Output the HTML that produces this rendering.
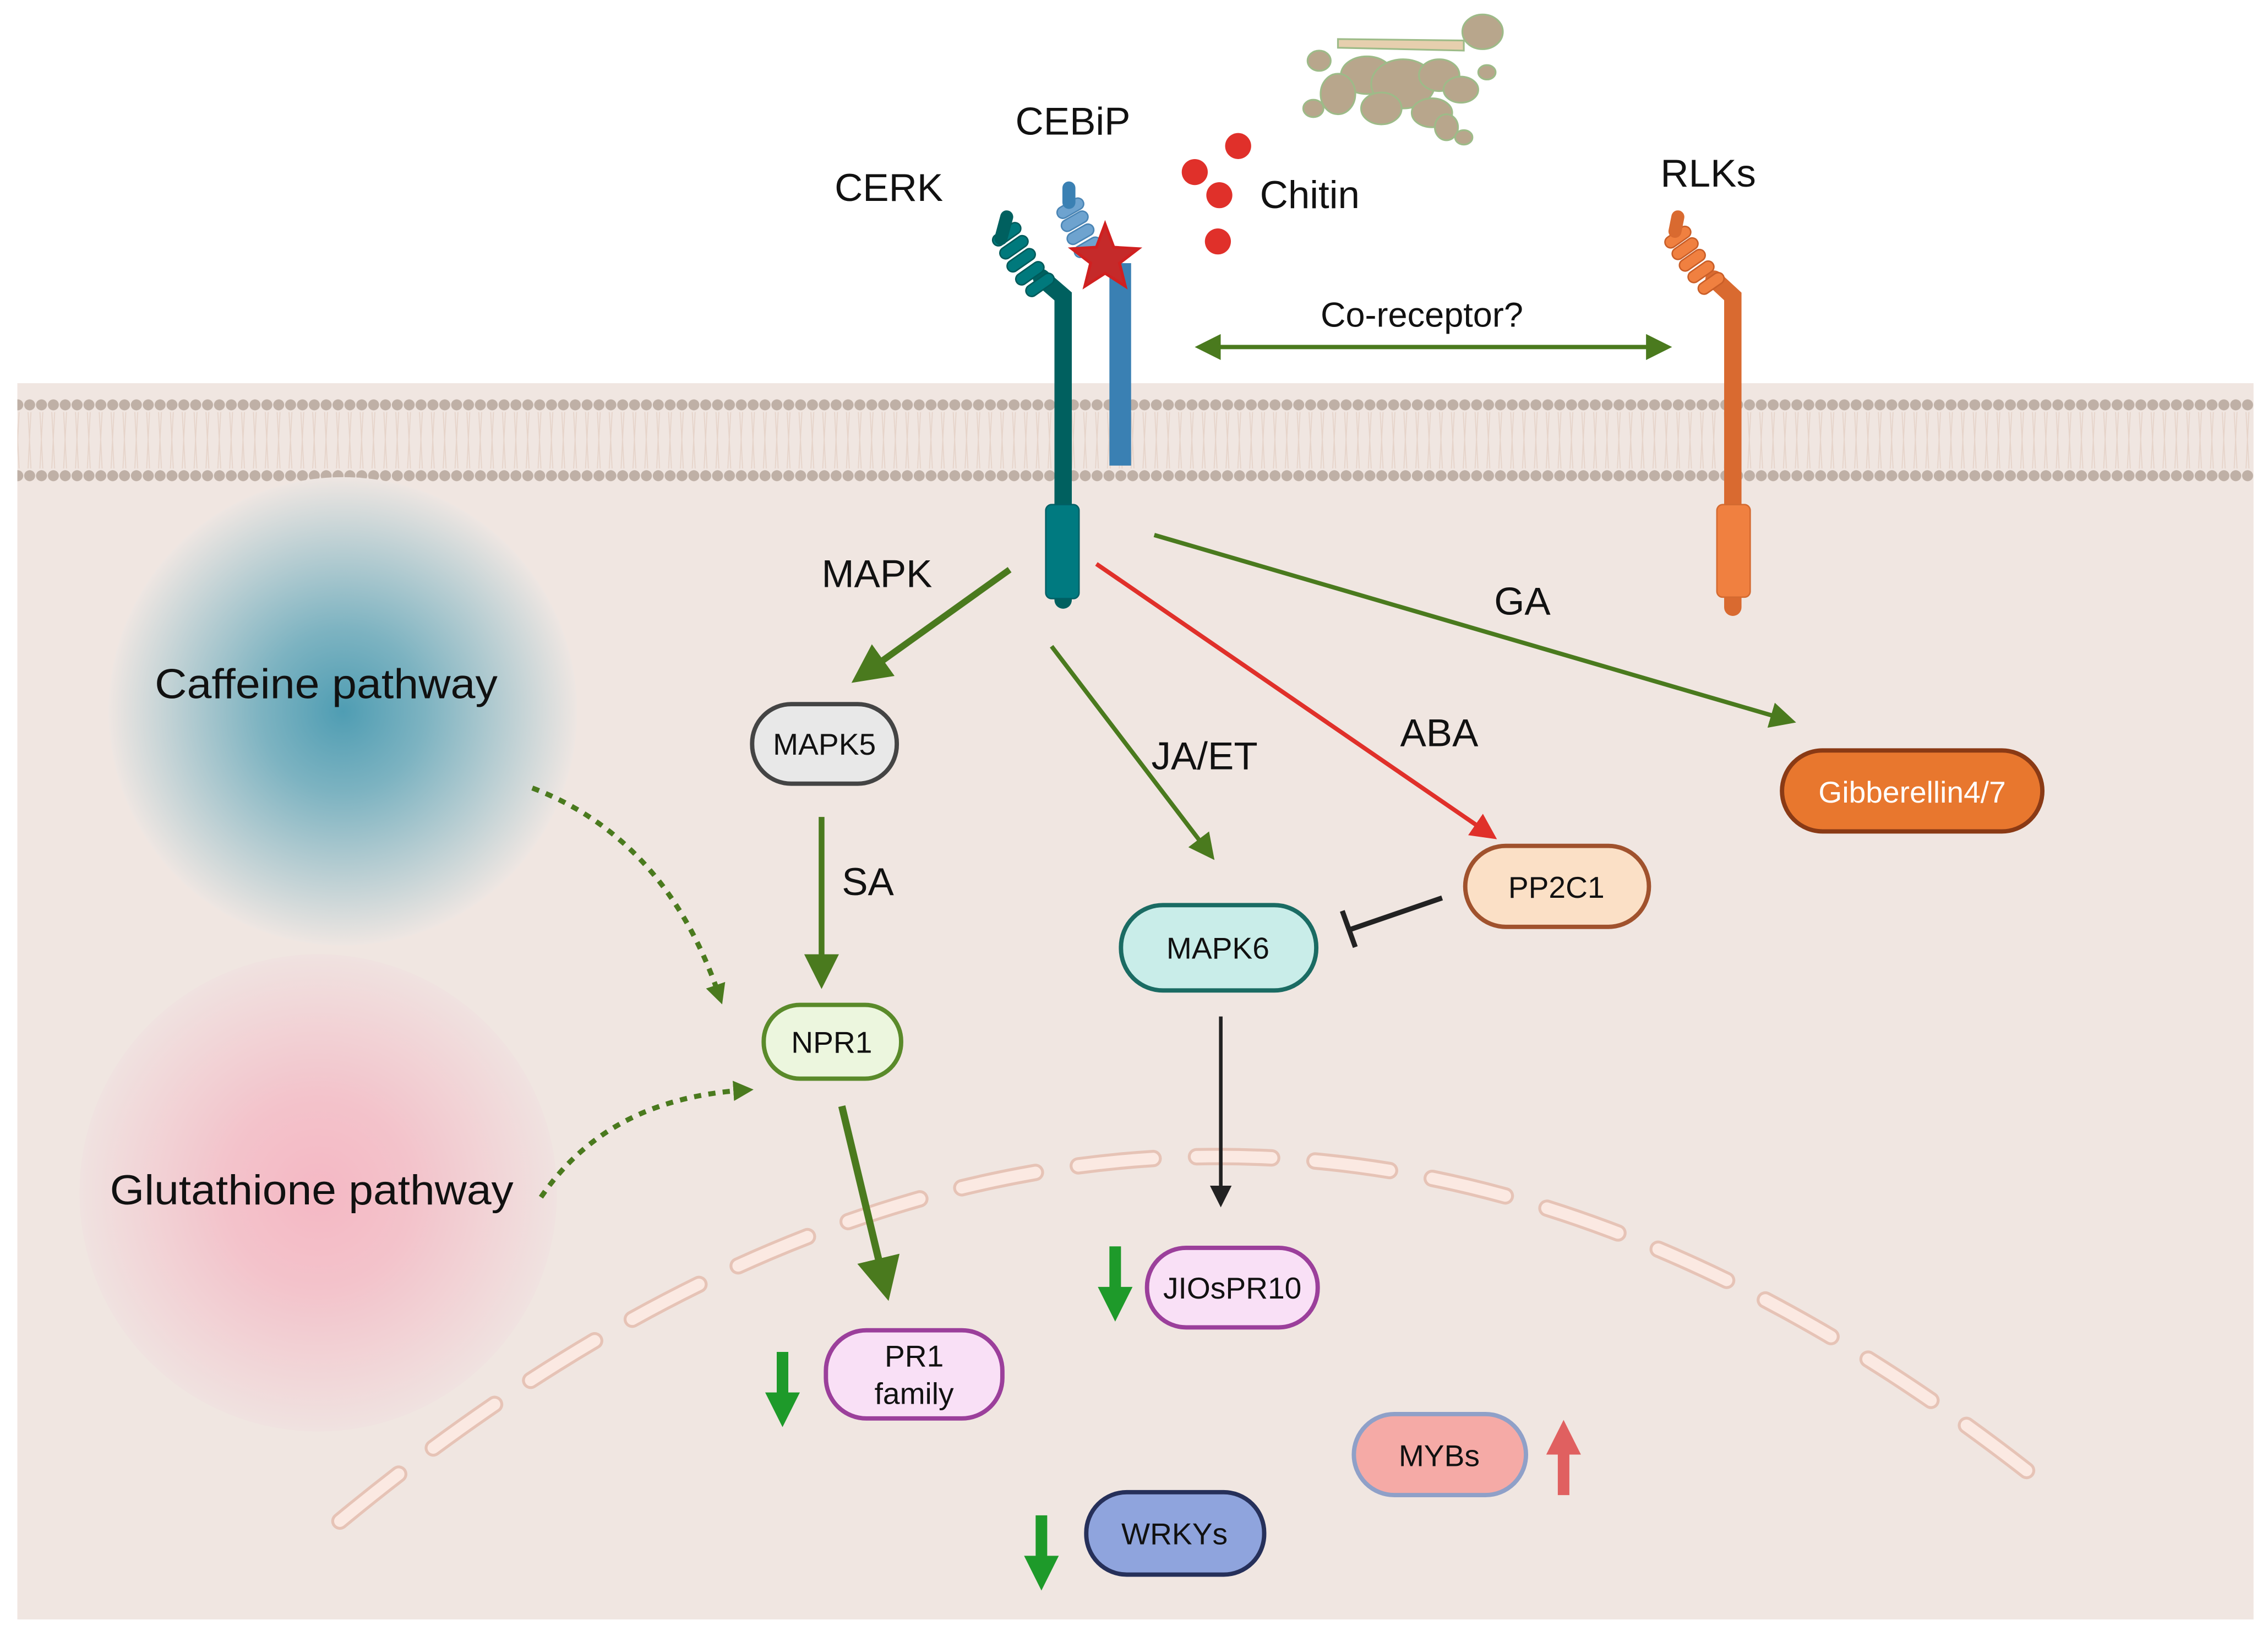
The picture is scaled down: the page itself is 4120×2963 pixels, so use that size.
<!DOCTYPE html>
<html><head><meta charset="utf-8"><style>html,body{margin:0;padding:0;background:#fff}svg{display:block}text{font-family:"Liberation Sans",sans-serif}</style></head><body>
<svg width="4120" height="2963" viewBox="0 0 1568 1128" preserveAspectRatio="none" xmlns="http://www.w3.org/2000/svg">
<defs>
<radialGradient id="gb"><stop offset="0" stop-color="#4f9db3"/><stop offset="0.35" stop-color="#7db3c1"/><stop offset="1" stop-color="#eee6e2"/></radialGradient>
<radialGradient id="gp"><stop offset="0" stop-color="#f5b8c4"/><stop offset="0.4" stop-color="#f3c3cb"/><stop offset="1" stop-color="#f0e2e0"/></radialGradient>
<pattern id="dots1" x="0" y="275" width="8.2" height="10" patternUnits="userSpaceOnUse"><circle cx="4.1" cy="5" r="3.8" fill="#bfb0a6"/></pattern>
<pattern id="dots2" x="0" y="324" width="8.2" height="10" patternUnits="userSpaceOnUse"><circle cx="4.1" cy="5" r="3.8" fill="#bfb0a6"/></pattern>
<pattern id="lip" x="0" y="285" width="8.2" height="39" patternUnits="userSpaceOnUse"><path d="M3 0 L4 19 L3 39 M5 0 L4 19 L5 39" stroke="#e6d4ca" stroke-width="0.7" fill="none"/></pattern>
<marker id="ag" markerWidth="6" markerHeight="6" refX="4" refY="3" orient="auto-start-reverse" markerUnits="strokeWidth"><path d="M0,0 L6,3 L0,6 Z" fill="#4a7a1e"/></marker>
<marker id="ar" markerWidth="6" markerHeight="6" refX="4" refY="3" orient="auto" markerUnits="strokeWidth"><path d="M0,0 L6,3 L0,6 Z" fill="#e0302a"/></marker>
<marker id="ak" markerWidth="6" markerHeight="6" refX="4" refY="3" orient="auto" markerUnits="strokeWidth"><path d="M0,0 L6,3 L0,6 Z" fill="#222"/></marker>
<marker id="ad" markerWidth="4" markerHeight="4" refX="2" refY="2" orient="auto" markerUnits="strokeWidth"><path d="M0,0 L4,2 L0,4 Z" fill="#4a7a1e"/></marker>
</defs>
<rect width="1568" height="1128" fill="#fff"/>
<rect x="12" y="265" width="1546" height="855" fill="#f0e6e1"/>
<rect x="12" y="285" width="1546" height="39" fill="url(#lip)"/>
<rect x="12" y="275" width="1546" height="10" fill="url(#dots1)"/>
<rect x="12" y="324" width="1546" height="10" fill="url(#dots2)"/>
<circle cx="237" cy="492" r="162" fill="url(#gb)"/>
<circle cx="220" cy="825" r="165" fill="url(#gp)"/>
<path d="M235,1052 Q830,560 1415,1028" fill="none" stroke="#e6c3b6" stroke-width="12" stroke-dasharray="52 30" stroke-linecap="round"/>
<path d="M235,1052 Q830,560 1415,1028" fill="none" stroke="#fbe9e2" stroke-width="8" stroke-dasharray="52 30" stroke-linecap="round"/>
<!-- fungus -->
<g fill="#b8a68c" stroke="#9dbb88" stroke-width="1.2">
<ellipse cx="1025" cy="22" rx="14" ry="12"/>
<path d="M925,27 L1012,28 L1012,35 L925,33 Z" fill="#e6cfae"/>
<ellipse cx="945" cy="52" rx="18" ry="13"/><ellipse cx="970" cy="58" rx="22" ry="17"/><ellipse cx="995" cy="52" rx="14" ry="11"/><ellipse cx="912" cy="42" rx="8" ry="7"/><ellipse cx="925" cy="65" rx="12" ry="14"/><ellipse cx="908" cy="75" rx="7" ry="6"/><ellipse cx="955" cy="75" rx="14" ry="11"/><ellipse cx="990" cy="78" rx="14" ry="10"/><ellipse cx="1010" cy="62" rx="12" ry="9"/><ellipse cx="1028" cy="50" rx="6" ry="5"/><ellipse cx="1000" cy="88" rx="8" ry="9"/><ellipse cx="1012" cy="95" rx="6" ry="5"/>
</g>
<!-- chitin -->
<g fill="#e0302a"><circle cx="856" cy="101" r="9"/><circle cx="826" cy="119" r="9"/><circle cx="843" cy="135" r="9"/><circle cx="842" cy="167" r="9"/></g>
<!-- CERK -->
<path d="M735,415 L735,205 L720,192" stroke="#00605f" stroke-width="12" fill="none" stroke-linecap="round"/>
<g fill="#00797c" stroke="#005a5a" stroke-width="1">
<rect x="685" y="158" width="22" height="8" rx="4" transform="rotate(-35 696 162)"/><rect x="690" y="167" width="22" height="8" rx="4" transform="rotate(-35 701 171)"/><rect x="695" y="176" width="22" height="8" rx="4" transform="rotate(-35 706 180)"/><rect x="701" y="185" width="22" height="8" rx="4" transform="rotate(-35 712 189)"/><rect x="708" y="193" width="22" height="8" rx="4" transform="rotate(-35 719 197)"/>
</g>
<path d="M692,165 L696,150" stroke="#00605f" stroke-width="9" stroke-linecap="round"/>
<rect x="723" y="349" width="23" height="65" rx="4" fill="#007a80" stroke="#006066"/>
<!-- CEBiP -->
<rect x="767" y="182" width="15" height="140" fill="#3a80b3"/>
<g fill="#6ea3cf" stroke="#4a85b5" stroke-width="1">
<rect x="730" y="140" width="20" height="8" rx="4" transform="rotate(-30 740 144)"/><rect x="733" y="149" width="20" height="8" rx="4" transform="rotate(-30 743 153)"/><rect x="737" y="158" width="20" height="8" rx="4" transform="rotate(-30 747 162)"/><rect x="742" y="167" width="20" height="8" rx="4" transform="rotate(-30 752 171)"/>
</g>
<path d="M739,140 L739,130" stroke="#3a80b3" stroke-width="9" stroke-linecap="round"/>
<polygon points="764,155 770,171 787,172 774,182 778,198 764,189 750,198 754,182 741,172 758,171" fill="#c52a2a" stroke="#d02020" stroke-width="2"/>
<!-- RLKs -->
<path d="M1198,420 L1198,205 L1185,193" stroke="#d96a30" stroke-width="12" fill="none" stroke-linecap="round"/>
<g fill="#f08040" stroke="#c95e28" stroke-width="1">
<rect x="1150" y="160" width="20" height="8" rx="4" transform="rotate(-35 1160 164)"/><rect x="1155" y="168" width="20" height="8" rx="4" transform="rotate(-35 1165 172)"/><rect x="1160" y="176" width="20" height="8" rx="4" transform="rotate(-35 1170 180)"/><rect x="1166" y="184" width="20" height="8" rx="4" transform="rotate(-35 1176 188)"/><rect x="1173" y="192" width="20" height="8" rx="4" transform="rotate(-35 1183 196)"/>
</g>
<path d="M1158,160 L1160,150" stroke="#d96a30" stroke-width="9" stroke-linecap="round"/>
<rect x="1187" y="349" width="23" height="64" rx="4" fill="#f08040" stroke="#d46a30"/>
<!-- labels top -->
<g font-size="27" fill="#111">
<text x="577" y="139">CERK</text><text x="702" y="93">CEBiP</text><text x="871" y="144">Chitin</text><text x="1148" y="129">RLKs</text>
<text x="913" y="226" font-size="24">Co-receptor?</text>
<text x="568" y="406">MAPK</text><text x="1033" y="425">GA</text><text x="796" y="532">JA/ET</text><text x="968" y="516">ABA</text><text x="582" y="619">SA</text>
<text x="107" y="483" font-size="29" textLength="237" lengthAdjust="spacingAndGlyphs">Caffeine pathway</text><text x="76" y="833" font-size="29" textLength="279" lengthAdjust="spacingAndGlyphs">Glutathione pathway</text>
</g>
<!-- arrows -->
<line x1="832" y1="240" x2="1150" y2="240" stroke="#4a7a1e" stroke-width="3" marker-end="url(#ag)" marker-start="url(#ag)"/>
<line x1="698" y1="394" x2="596" y2="467" stroke="#4a7a1e" stroke-width="4.5" marker-end="url(#ag)"/>
<line x1="727" y1="447" x2="836" y2="590" stroke="#4a7a1e" stroke-width="3" marker-end="url(#ag)"/>
<line x1="758" y1="390" x2="1030" y2="577" stroke="#e0302a" stroke-width="3" marker-end="url(#ar)"/>
<line x1="798" y1="370" x2="1236" y2="498" stroke="#4a7a1e" stroke-width="3" marker-end="url(#ag)"/>
<line x1="568" y1="565" x2="568" y2="676" stroke="#4a7a1e" stroke-width="4" marker-end="url(#ag)"/>
<line x1="582" y1="765" x2="612" y2="890" stroke="#4a7a1e" stroke-width="5" marker-end="url(#ag)"/>
<line x1="844" y1="703" x2="844" y2="830" stroke="#222" stroke-width="2.5" marker-end="url(#ak)"/>
<line x1="997" y1="621" x2="933" y2="643" stroke="#222" stroke-width="3.5"/>
<line x1="928" y1="630" x2="937" y2="655" stroke="#222" stroke-width="3.5"/>
<path d="M368,545 Q460,580 497,688" fill="none" stroke="#4a7a1e" stroke-width="3.5" stroke-dasharray="5 5" marker-end="url(#ad)"/>
<path d="M374,828 Q420,760 514,754" fill="none" stroke="#4a7a1e" stroke-width="3.5" stroke-dasharray="5 5" marker-end="url(#ad)"/>
<!-- small arrows -->
<g fill="#1e9a2a">
<path d="M767,862 h8 v28 h8 l-12,24 l-12,-24 h8 z"/>
<path d="M537,935 h8 v28 h8 l-12,24 l-12,-24 h8 z"/>
<path d="M716,1048 h8 v28 h8 l-12,24 l-12,-24 h8 z"/>
</g>
<path d="M1077,1034 h8 v-28 h8 l-12,-24 l-12,24 h8 z" fill="#e06060"/>
<!-- nodes -->
<g stroke-width="3" font-size="21" text-anchor="middle">
<rect x="520" y="487" width="100" height="55" rx="27" fill="#e8e8e8" stroke="#444"/><text x="570" y="522" fill="#111" stroke="none">MAPK5</text>
<rect x="528" y="695" width="95" height="51" rx="25" fill="#ecf6de" stroke="#5a8a2a"/><text x="575" y="728" stroke="none" fill="#111">NPR1</text>
<rect x="571" y="920" width="122" height="61" rx="28" fill="#f9e0f6" stroke="#9b3f9b"/><text x="632" y="945" stroke="none" fill="#111">PR1</text><text x="632" y="971" stroke="none" fill="#111">family</text>
<rect x="775" y="626" width="135" height="59" rx="29" fill="#c9ede9" stroke="#1a6b63"/><text x="842" y="663" stroke="none" fill="#111">MAPK6</text>
<rect x="1013" y="585" width="127" height="56" rx="28" fill="#fbe0c6" stroke="#a0522d"/><text x="1076" y="621" stroke="none" fill="#111">PP2C1</text>
<rect x="1232" y="519" width="180" height="56" rx="28" fill="#e8772e" stroke="#8a3a15"/><text x="1322" y="555" stroke="none" fill="#fff">Gibberellin4/7</text>
<rect x="793" y="863" width="118" height="55" rx="27" fill="#f9e0f6" stroke="#9b3f9b"/><text x="852" y="898" stroke="none" fill="#111">JIOsPR10</text>
<rect x="936" y="978" width="119" height="56" rx="28" fill="#f5aaa6" stroke="#8fa0c8"/><text x="995" y="1014" stroke="none" fill="#111">MYBs</text>
<rect x="751" y="1032" width="123" height="57" rx="28" fill="#8fa4dd" stroke="#26305a"/><text x="812" y="1068" stroke="none" fill="#111">WRKYs</text>
</g>
</svg>
</body></html>
